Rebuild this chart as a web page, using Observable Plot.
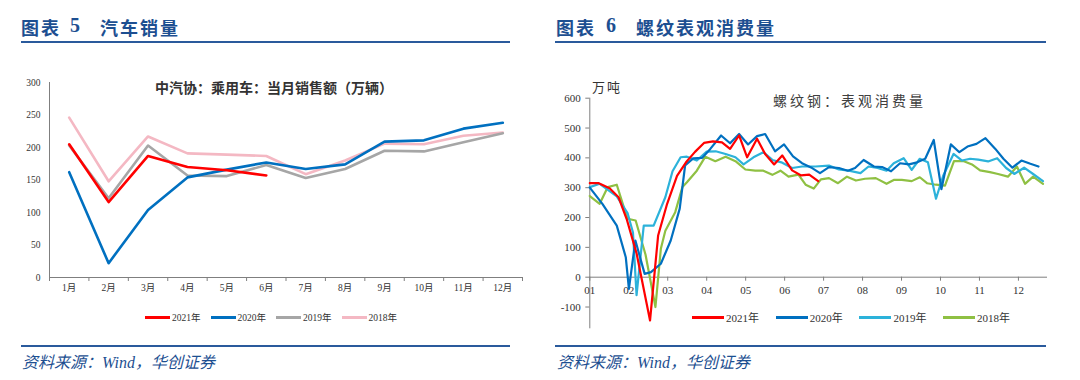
<!DOCTYPE html>
<html><head><meta charset="utf-8">
<script src="https://cdn.jsdelivr.net/npm/d3@7"></script>
<script src="https://cdn.jsdelivr.net/npm/@observablehq/plot@0.6"></script>
<style>
html,body{margin:0;padding:0;background:#fff;}
body{width:1080px;height:380px;position:relative;overflow:hidden;font-family:"Noto Sans CJK SC",sans-serif;}
.a{position:absolute;white-space:nowrap;}
.hd{font-weight:bold;font-size:18px;line-height:18px;color:#1d4f91;letter-spacing:2px;}
.hdn{font-family:"Liberation Serif",serif;font-size:20px;}
.rule{position:absolute;height:2px;background:#2a5a9c;}
.src{font-size:16px;line-height:16px;color:#1d4f91;font-style:italic;font-family:"Liberation Serif","Noto Sans CJK SC",serif;}
.leg{position:absolute;display:flex;align-items:center;white-space:nowrap;color:#333;font-family:"Liberation Serif","Noto Sans CJK SC",serif;}
.leg span.l{display:inline-block;height:3px;margin-right:2px;}
</style></head><body>
<div id="root"></div>
<script>
// ---------- Left chart data: 汽车销量 ----------
const carMonths = ["1月","2月","3月","4月","5月","6月","7月","8月","9月","10月","11月","12月"];
const carYears = ["2021年","2020年","2019年","2018年"];
const carColors = ["#ff0000","#0070c0","#a6a6a6","#f4b8c3"];
const car2021 = [205,116,187,170,165,157];
const car2020 = [162,22,104,154,166,177,167,174,209,211,229,238];
const car2019 = [203,122,203,157,156,173,153,167,195,194,208,222];
const car2018 = [246,148,217,191,189,187,159,180,206,205,218,223];
const carYTicks = [0,50,100,150,200,250,300];

// ---------- Right chart data: 螺纹表观消费量 (weekly) ----------
const steelMonths = ["01","02","03","04","05","06","07","08","09","10","11","12"];
const steelYears = ["2021年","2020年","2019年","2018年"];
const steelColors = ["#ff0000","#0070c0","#2cb2da","#8fc043"];
const steelYTicks = [-100,0,100,200,300,400,500,600];
const wk2021 = [0,1.0,2.2,3.2,4.1,5.2,6.7,7.6,8.6,9.7,10.7,11.7,12.7,13.7,14.7,15.6,16.6,17.5,18.6,19.5,20.5,21.4,22.5,23.5,24.4,25.4];
const st2021 = [315,315,298,268,195,80,-145,140,246,340,385,420,450,455,452,430,475,402,464,413,378,408,358,341,344,322];
const wk2020 = [0,1.4,3.0,4.0,4.35,5.07,6.1,6.8,7.9,9.0,10.0,10.6,11.5,12.5,13.4,14.6,15.6,16.6,17.6,18.6,19.5,20.6,21.6,22.6,23.6,24.6,25.6,26.6,27.7,28.7,29.5,30.45,31.6,32.5,33.5,34.5,35.5,36.4,37.3,38.25,39.1,40.15,41.1,42.0,43.0,44.0,45.1,46.0,47.0,48.0,49.0,49.9];
const st2020 = [300,246,173,67,-39,123,11,17,45,123,230,375,398,400,430,475,449,480,445,473,480,422,445,405,382,368,349,369,366,357,366,393,371,369,355,382,378,385,397,460,295,445,419,438,447,466,430,397,367,391,380,371];
const wk2019 = [0,1.1,3.0,4.2,4.8,5.2,6.0,7.1,8.4,9.2,10.1,10.8,11.9,13.0,14.0,15.1,16.2,17.1,18.2,19.3,20.3,21.3,22.5,23.6,25.1,26.6,27.7,28.8,30.1,31.0,32.0,33.0,33.8,34.9,35.8,36.7,37.6,38.5,39.3,40.45,41.4,42.3,43.2,44.3,45.3,46.3,47.2,48.3,49.3,50.4];
const st2019 = [302,313,271,215,150,-60,173,173,268,355,402,404,391,421,422,413,402,378,402,419,393,385,366,371,371,374,361,357,349,371,366,357,382,399,360,397,385,263,340,413,391,397,394,388,399,366,346,367,346,322];
const wk2018 = [0,1.1,2.0,3.0,3.9,4.2,5.1,6.2,7.3,7.9,8.4,9.5,10.3,10.8,11.9,12.85,13.96,15.1,16.2,17.3,18.4,19.3,20.3,21.2,22.1,23.2,24.0,24.9,25.7,26.6,27.6,28.6,29.6,30.6,31.8,33.0,33.8,34.7,35.8,36.7,37.5,38.5,39.5,40.5,41.6,42.5,43.4,44.5,45.4,46.5,47.5,48.4,49.3,50.4];
const st2018 = [272,246,302,310,223,196,190,75,-100,95,156,218,302,318,357,404,389,404,389,361,357,357,343,357,337,344,310,297,328,332,315,337,324,330,332,313,326,326,322,335,315,310,307,389,389,378,358,352,346,337,371,313,337,313];

// ---------- page furniture ----------
const root = document.getElementById("root");
function add(html){ root.insertAdjacentHTML("beforeend", html); }
add('<div class="a hd" style="left:21px;top:18px">图表</div>');
add('<div class="a hd hdn" style="left:70px;top:16px">5</div>');
add('<div class="a hd" style="left:100px;top:18px">汽车销量</div>');
add('<div class="a hd" style="left:556px;top:18px">图表</div>');
add('<div class="a hd hdn" style="left:606px;top:16px">6</div>');
add('<div class="a hd" style="left:636px;top:18px">螺纹表观消费量</div>');
add('<div class="rule" style="left:21px;top:41px;width:489px"></div>');
add('<div class="rule" style="left:555px;top:41px;width:491px"></div>');
add('<div class="rule" style="left:21px;top:345px;width:489px"></div>');
add('<div class="rule" style="left:555px;top:345px;width:491px"></div>');
add('<div class="a src" style="left:22px;top:355px">资料来源：Wind，华创证券</div>');
add('<div class="a src" style="left:557px;top:355px">资料来源：Wind，华创证券</div>');

// ---------- left chart ----------
const carVals = [car2021, car2020, car2019, car2018];
const carRows = [];
carYears.forEach((y, k) => carVals[k].forEach((v, i) => carRows.push({year: y, m: i + 1, v})));
const axisGray = "#7f7f7f";
const left = Plot.plot({
  width: 540, height: 240,
  marginLeft: 49, marginRight: 18, marginTop: 22, marginBottom: 23,
  style: {fontFamily: '"Liberation Serif","Noto Sans CJK SC",serif', fontSize: "9.5px", color: "#333", background: "transparent", overflow: "visible"},
  x: {type: "linear", domain: [0.5, 12.5], label: null},
  y: {domain: [0, 300], label: null},
  marks: [
    Plot.ruleY([0], {stroke: axisGray}),
    Plot.ruleX([0.5], {stroke: axisGray}),
    Plot.axisY({ticks: carYTicks, tickSize: 0, tickPadding: 9, label: null}),
    Plot.axisX({ticks: d3.range(1, 13), tickFormat: i => carMonths[i - 1], tickSize: 0, tickPadding: 7, label: null}),
    Plot.axisX({ticks: d3.range(0.5, 12.6, 1), tickFormat: () => "", tickSize: 4, stroke: axisGray, label: null}),
    ...carYears.map((y, k) => k).reverse().map(k =>
      Plot.line(carRows.filter(d => d.year === carYears[k]), {x: "m", y: "v", stroke: carColors[k], strokeWidth: 2.6, strokeLinejoin: "round"}))
  ]
});
left.style.position = "absolute"; left.style.left = "0px"; left.style.top = "60px";
root.appendChild(left);
add('<div class="a" style="left:274px;top:78px;transform:translateX(-50%);font-size:14px;line-height:18px;font-weight:bold;color:#333">中汽协：乘用车：当月销售额（万辆）</div>');
carYears.forEach((y, k) => {
  add(`<div class="leg" style="left:${145 + k * 65.5}px;top:310px;height:14px;font-size:9.5px"><span class="l" style="width:25px;background:${carColors[k]}"></span>${y}</div>`);
});

// ---------- right chart ----------
const stWk = [wk2021, wk2020, wk2019, wk2018];
const stVal = [st2021, st2020, st2019, st2018];
const stRows = [];
steelYears.forEach((y, k) => stVal[k].forEach((v, i) => stRows.push({year: y, w: stWk[k][i], v})));
const monthPos = steelMonths.map((d, i) => i * 52 / 12);
const right = Plot.plot({
  width: 540, height: 250,
  marginLeft: 49.3, marginRight: 33, marginTop: 17.7, marginBottom: 1.7,
  style: {fontFamily: '"Liberation Serif","Noto Sans CJK SC",serif', fontSize: "11px", color: "#333", background: "transparent", overflow: "visible"},
  x: {type: "linear", domain: [0, 50.9], label: null, axis: null},
  y: {domain: [-173, 600], label: null},
  marks: [
    Plot.ruleX([0], {stroke: axisGray}),
    Plot.ruleY([0], {stroke: axisGray}),
    Plot.axisY({ticks: steelYTicks, tickSize: 4, tickPadding: 5, tickFormat: d => String(d), stroke: axisGray, label: null}),
    Plot.ruleX(monthPos, {x: d => d, y1: 0, y2: -13.4, stroke: axisGray}),
    Plot.text(steelMonths, {x: (d, i) => monthPos[i], y: 0, dy: 13, text: d => d}),
    ...steelYears.map((y, k) => k).reverse().map(k =>
      Plot.line(stRows.filter(d => d.year === steelYears[k]), {x: "w", y: "v", stroke: steelColors[k], strokeWidth: 2.2, strokeLinejoin: "round"}))
  ]
});
right.style.position = "absolute"; right.style.left = "540px"; right.style.top = "80px";
root.appendChild(right);
add('<div class="a" style="left:592px;top:78px;font-size:13px;line-height:18px;letter-spacing:2px;color:#333">万吨</div>');
add('<div class="a" style="left:773px;top:91px;font-size:14px;line-height:18px;letter-spacing:3px;color:#404040">螺纹钢：表观消费量</div>');
steelYears.forEach((y, k) => {
  add(`<div class="leg" style="left:${692 + k * 83.7}px;top:310px;height:14px;font-size:11px"><span class="l" style="width:32px;background:${steelColors[k]}"></span>${y}</div>`);
});
</script>
</body></html>
